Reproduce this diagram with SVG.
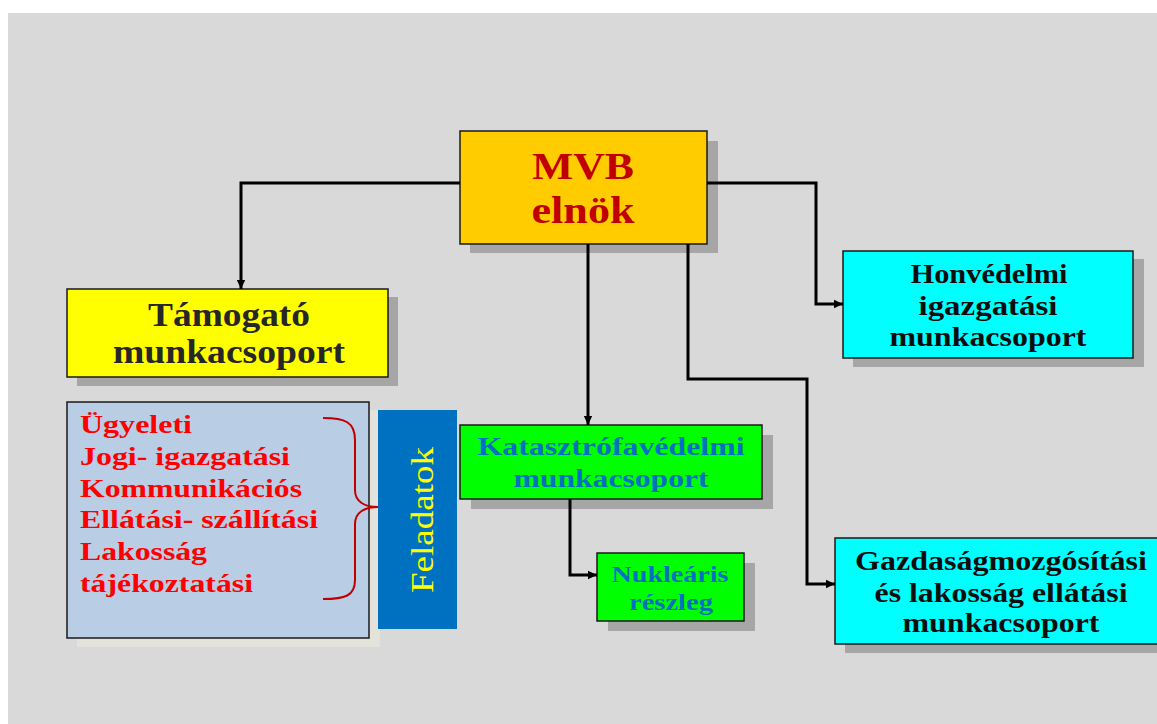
<svg xmlns="http://www.w3.org/2000/svg" width="1157" height="724" viewBox="0 0 1157 724">
<defs>
<marker id="ah" markerWidth="10" markerHeight="10" refX="9" refY="5" orient="auto" markerUnits="userSpaceOnUse">
<path d="M0,0.8 L9,5 L0,9.2 Z" fill="#000"/>
</marker>
<style>
.bx{stroke:#1a1a1a;stroke-width:1.5}
.sh{fill:#a6a6a6}
.t{font-family:"Liberation Serif","Times New Roman",serif;font-weight:bold;text-anchor:middle}
.conn{fill:none;stroke:#000;stroke-width:3;marker-end:url(#ah)}
</style>
</defs>
<rect x="0" y="0" width="1157" height="724" fill="#fff"/>
<rect x="8" y="13" width="1149" height="711" fill="#d9d9d9"/>

<g id="mvb">
<rect class="sh" x="470" y="141" width="248" height="112"/>
<rect class="bx" x="460" y="131" width="247" height="113" fill="#ffcc00"/>
<text class="t" fill="#c00000" font-size="37" x="583" y="179" textLength="102" lengthAdjust="spacingAndGlyphs">MVB</text>
<text class="t" fill="#c00000" font-size="37" x="583" y="223" textLength="103" lengthAdjust="spacingAndGlyphs">elnök</text>
</g>

<g id="tamogato">
<rect class="sh" x="77" y="297" width="321" height="89"/>
<rect class="bx" x="67" y="289" width="321" height="88" fill="#ffff00"/>
<text class="t" fill="#262626" font-size="34" x="229" y="326" textLength="162" lengthAdjust="spacingAndGlyphs">Támogató</text>
<text class="t" fill="#262626" font-size="34" x="229" y="363" textLength="232" lengthAdjust="spacingAndGlyphs">munkacsoport</text>
</g>

<g id="feladatok-lista">
<rect x="77" y="410" width="303" height="237" fill="#e3e3dc"/>
<rect class="bx" x="67" y="402" width="302" height="236" fill="#b9cde5"/>
<g class="t" fill="#ff0000" font-size="26" style="text-anchor:start">
<text x="80" y="433" textLength="112" lengthAdjust="spacingAndGlyphs">Ügyeleti</text>
<text x="80" y="465" textLength="210" lengthAdjust="spacingAndGlyphs">Jogi- igazgatási</text>
<text x="80" y="497" textLength="222" lengthAdjust="spacingAndGlyphs">Kommunikációs</text>
<text x="80" y="528" textLength="238" lengthAdjust="spacingAndGlyphs">Ellátási- szállítási</text>
<text x="80" y="560" textLength="127" lengthAdjust="spacingAndGlyphs">Lakosság</text>
<text x="80" y="592" textLength="173" lengthAdjust="spacingAndGlyphs">tájékoztatási</text>
</g>
<path d="M323,418 C345,418 355,422 355,440 V490 C355,502 365,507 378,507 C365,507 355,512 355,524 V580 C355,596 345,599 323,599" fill="none" stroke="#c00000" stroke-width="2"/>
</g>

<g id="feladatok">
<rect x="378" y="410" width="79" height="219" fill="#0070c0"/>
<text transform="translate(433,520) rotate(-90)" font-family="'Liberation Serif','Times New Roman',serif" font-size="32" fill="#ffff00" text-anchor="middle" textLength="146" lengthAdjust="spacingAndGlyphs">Feladatok</text>
</g>

<g id="katasztrofa">
<rect class="sh" x="471" y="435" width="302" height="74"/>
<rect class="bx" x="460" y="425" width="302" height="74" fill="#00ff00"/>
<text class="t" fill="#0070c0" font-size="25" x="611" y="455" textLength="267" lengthAdjust="spacingAndGlyphs">Katasztrófavédelmi</text>
<text class="t" fill="#0070c0" font-size="25" x="611" y="487" textLength="195" lengthAdjust="spacingAndGlyphs">munkacsoport</text>
</g>

<g id="nuklearis">
<rect class="sh" x="608" y="563" width="147" height="68"/>
<rect class="bx" x="597" y="553" width="147" height="68" fill="#00ff00"/>
<text class="t" fill="#0070c0" font-size="23" x="670" y="582" textLength="117" lengthAdjust="spacingAndGlyphs">Nukleáris</text>
<text class="t" fill="#0070c0" font-size="23" x="671" y="610" textLength="84" lengthAdjust="spacingAndGlyphs">részleg</text>
</g>

<g id="honvedelmi">
<rect class="sh" x="853" y="259" width="291" height="108"/>
<rect class="bx" x="843" y="251" width="290" height="107" fill="#00ffff"/>
<text class="t" fill="#0d0d0d" font-size="27" x="989" y="283" textLength="157" lengthAdjust="spacingAndGlyphs">Honvédelmi</text>
<text class="t" fill="#0d0d0d" font-size="27" x="988" y="315" textLength="139" lengthAdjust="spacingAndGlyphs">igazgatási</text>
<text class="t" fill="#0d0d0d" font-size="27" x="988" y="346" textLength="197" lengthAdjust="spacingAndGlyphs">munkacsoport</text>
</g>

<g id="gazdasag">
<rect class="sh" x="845" y="546" width="330" height="107"/>
<rect class="bx" x="835" y="538" width="332" height="106" fill="#00ffff"/>
<text class="t" fill="#0d0d0d" font-size="27" x="1001" y="570" textLength="292" lengthAdjust="spacingAndGlyphs">Gazdaságmozgósítási</text>
<text class="t" fill="#0d0d0d" font-size="27" x="1001" y="602" textLength="253" lengthAdjust="spacingAndGlyphs">és lakosság ellátási</text>
<text class="t" fill="#0d0d0d" font-size="27" x="1001" y="632" textLength="197" lengthAdjust="spacingAndGlyphs">munkacsoport</text>
</g>

<g id="connectors">
<path class="conn" d="M460,183 H241 V289"/>
<path class="conn" d="M707,183 H816 V304 H843"/>
<path class="conn" d="M588,244 V425"/>
<path class="conn" d="M688,244 V379 H807 V584 H835"/>
<path class="conn" d="M570,499 V575 H597"/>
</g>
</svg>
